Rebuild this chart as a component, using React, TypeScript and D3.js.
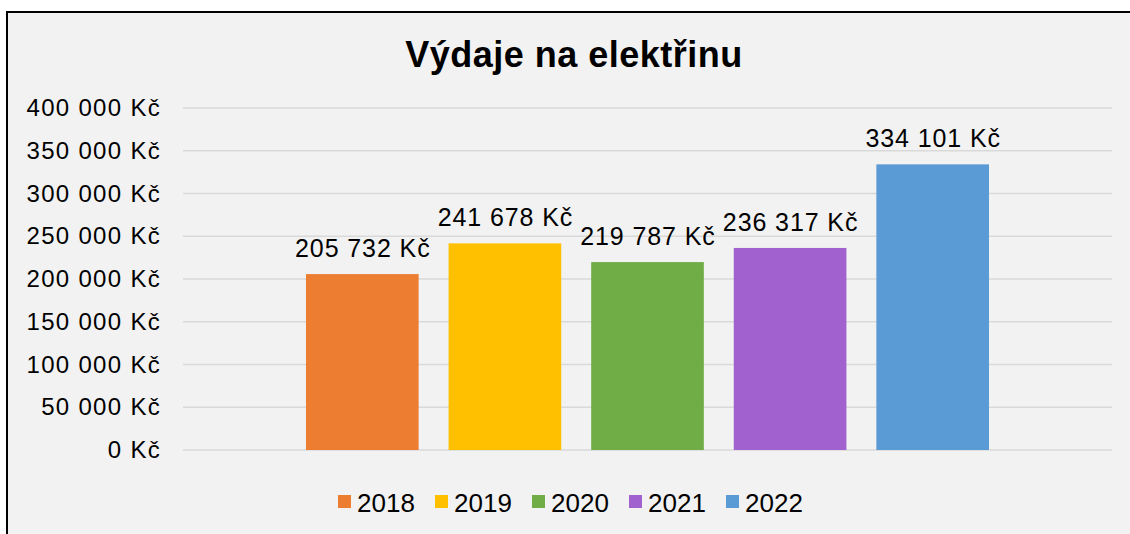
import * as d3 from "d3";
import React from "react";

// chart data
const years = ["2018", "2019", "2020", "2021", "2022"];
const costs = [205732, 241678, 219787, 236317, 334101];
const colors = ["#ED7D31", "#FFC000", "#70AD47", "#A162D0", "#5B9BD5"];
const yTicks = [0, 50000, 100000, 150000, 200000, 250000, 300000, 350000, 400000];
const title = "Výdaje na elektřinu";

const W = 1130;
const H = 534;
const FONT = "'Liberation Sans', Arial, Helvetica, sans-serif";

// "205 732 Kč"
const kc = (v: number) => d3.format(",")(v).replace(/,/g, " ") + " Kč";

const App = () => {
  const plot = { left: 183, right: 1112, top: 108, bottom: 450 };

  const y = d3.scaleLinear().domain([0, 400000]).range([plot.bottom, plot.top]);
  const x = d3
    .scaleBand()
    .domain(years)
    .range([plot.left, plot.right])
    .paddingInner(0.21)
    .paddingOuter(0.8625);

  // legend layout
  const legendStep = 97;
  const legendX0 = 338;
  const legendY = 495;

  return (
    <div style={{ position: "absolute", left: 0, top: 0, width: W, height: H, overflow: "hidden" }}>
      <svg width={W} height={H} style={{ display: "block" }} fontFamily={FONT}>
        <rect x={0} y={0} width={W} height={H} fill="#ffffff" />
        <rect x={7} y={12} width={W} height={H} fill="#F2F2F2" />
        {/* frame: only top and left edges are inside the picture */}
        <path d={`M7,${H}V12H${W}`} fill="none" stroke="#000" strokeWidth={2} />

        <text x={574} y={67} textAnchor="middle" fontSize={36} fontWeight="bold" letterSpacing={0.5} fill="#000">
          {title}
        </text>

        {/* gridlines + y labels */}
        {yTicks.map((t) => (
          <g key={t}>
            <line x1={plot.left} x2={plot.right} y1={y(t)} y2={y(t)} stroke="#D9D9D9" strokeWidth={1.5} />
            <text x={161} y={y(t)} dy="0.34em" textAnchor="end" fontSize={24} letterSpacing={1.3} fill="#000">
              {kc(t)}
            </text>
          </g>
        ))}

        {/* bars */}
        {years.map((yr, i) => (
          <g key={yr}>
            <rect
              x={x(yr)}
              y={y(costs[i])}
              width={x.bandwidth()}
              height={y(0) - y(costs[i])}
              fill={colors[i]}
            />
            <text
              x={(x(yr) as number) + x.bandwidth() / 2 + 0.5}
              y={y(costs[i]) - 17}
              textAnchor="middle"
              fontSize={25}
              letterSpacing={0.9}
              fill="#000"
            >
              {kc(costs[i])}
            </text>
          </g>
        ))}

        {/* legend */}
        {years.map((yr, i) => (
          <g key={"lg" + yr} transform={`translate(${legendX0 + i * legendStep},${legendY})`}>
            <rect x={0} y={0} width={13} height={13} fill={colors[i]} />
            <text x={19} y={16.5} fontSize={26} fill="#000">
              {yr}
            </text>
          </g>
        ))}
      </svg>
    </div>
  );
};

export default App;
